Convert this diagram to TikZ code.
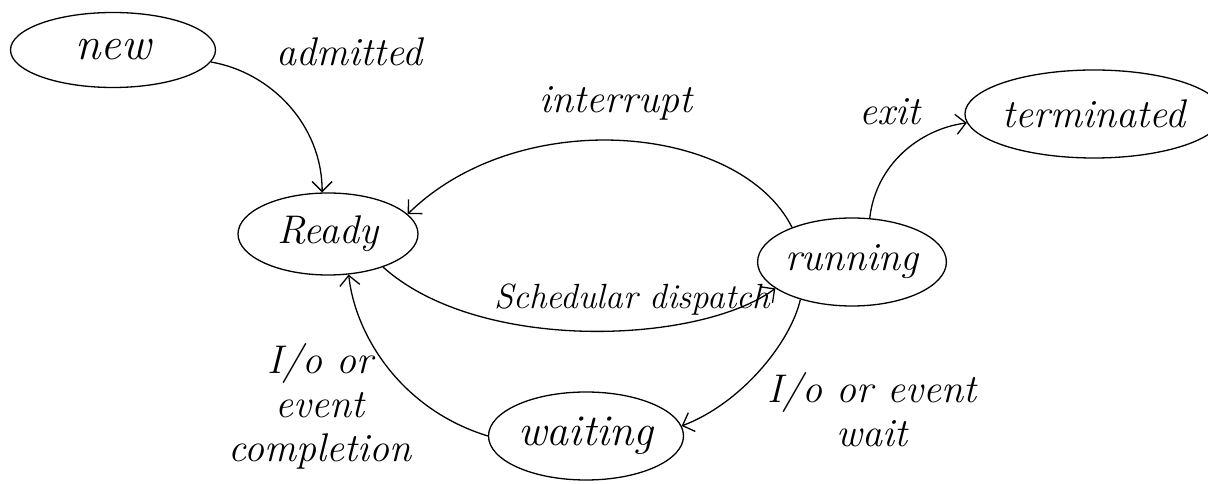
\documentclass[tikz,border=0pt]{standalone}
\usetikzlibrary{shapes.geometric,arrows.meta}
\begin{document}
\begin{tikzpicture}[x=1pt,y=1pt,
  state/.style={ellipse,draw,line width=1.3pt,inner sep=0pt,font=\fontsize{40}{46}\selectfont\itshape},
  lbl/.style={inner sep=0pt,align=center,font=\fontsize{40}{44}\selectfont\itshape},
  conn/.style={line width=1.3pt,-{Straight Barb[length=10pt,width=20pt,line width=1.3pt]}}]
\useasboundingbox (0,0) rectangle (1208,484);
% states
\node[state,minimum width=205pt,minimum height=75pt,font=\fontsize{46}{50}\selectfont\itshape] (new) at (113,434) {new};
\node[state,minimum width=180pt,minimum height=82pt] (ready) at (328,250) {Ready};
\node[state,minimum width=210pt,minimum height=88pt] (term) at (1094,370) {terminated};
\node[state,minimum width=165pt,minimum height=88pt] (run) at (852,222) {running};
\node[state,minimum width=195pt,minimum height=88pt,font=\fontsize{44}{48}\selectfont\itshape] (wait) at (586,48) {waiting};
% labels
\node[lbl] (ladm) at (349,432) {admitted};
\node[lbl] (lint) at (616,381) {interrupt};
\node[lbl] (lexit) at (890,372) {exit};
\node[lbl,font=\fontsize{35}{40}\selectfont\itshape] (lsched) at (632,184) {Schedular dispatch};
\node[lbl] (lwait) at (872,74) {I/o or event\\wait};
\node[lbl] (lcomp) at (320,78) {I/o or\\event\\completion};
% connectors
\draw[conn] (new.-7) .. controls (270,412) and (322,360) .. (ready.98);
\draw[conn] (run.150) .. controls (740,360) and (520,380) .. (ready.14);
\draw[conn] (run.68) .. controls (876,320) and (920,355) .. (term.184);
\draw[conn] (ready.-31) .. controls (480,130) and (700,140) .. (run.199);
\draw[conn] (run.216) .. controls (790,140) and (740,80) .. (wait.6);
\draw[conn] (wait.180) .. controls (400,75) and (355,150) .. (ready.-63);
\end{tikzpicture}
\end{document}
